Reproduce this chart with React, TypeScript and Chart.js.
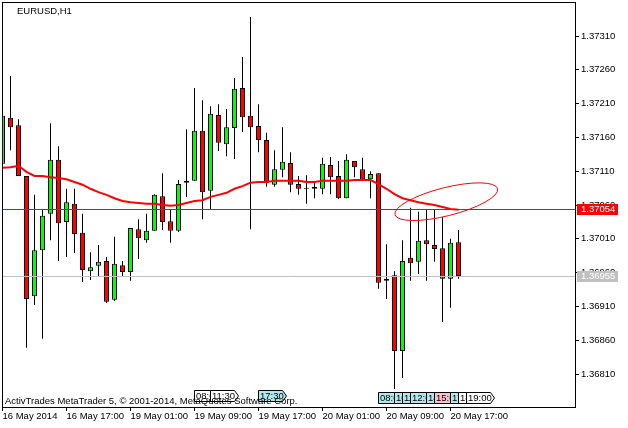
import React, { useEffect, useRef } from "react";
import { Chart, registerables } from "chart.js";

Chart.register(...registerables);

// ---- data (EURUSD H1, 16 May 2014 09:00 .. 20 May 2014 18:00) ----
const OPEN = [1.37121, 1.37189, 1.37178, 1.37103, 1.36925, 1.36993, 1.37047, 1.37127, 1.37035, 1.37062,
  1.37019, 1.36962, 1.3697, 1.36977, 1.3692, 1.36971, 1.36961, 1.37024, 1.37008, 1.37022,
  1.37073, 1.37036, 1.37022, 1.37093, 1.37096, 1.3717, 1.37081, 1.37193, 1.3715, 1.37174,
  1.37233, 1.37192, 1.37177, 1.37156, 1.3709, 1.37112, 1.37122, 1.37091, 1.37084, 1.37087,
  1.37084, 1.37119, 1.37103, 1.3707, 1.37125, 1.37113, 1.37098, 1.37107, 1.36948, 1.36956,
  1.36844, 1.36982, 1.36976, 1.37008, 1.37001, 1.36996, 1.36951, 1.37005];
const HIGH = [1.37195, 1.37251, 1.37187, 1.37103, 1.37075, 1.37053, 1.37181, 1.37147, 1.37084, 1.37084,
  1.37047, 1.3699, 1.37001, 1.36983, 1.37013, 1.36977, 1.37026, 1.37039, 1.37047, 1.37076,
  1.37107, 1.37053, 1.37097, 1.37172, 1.37233, 1.37215, 1.37206, 1.37209, 1.37202, 1.37248,
  1.37279, 1.37338, 1.37209, 1.37167, 1.37141, 1.37175, 1.37138, 1.37103, 1.37104, 1.37094,
  1.3713, 1.37131, 1.37125, 1.37135, 1.37125, 1.3713, 1.3711, 1.37107, 1.37002, 1.36962,
  1.37008, 1.37056, 1.3705, 1.37053, 1.37053, 1.37042, 1.3701, 1.37023];
const LOW = [1.37118, 1.37141, 1.37103, 1.36849, 1.36912, 1.36862, 1.37008, 1.36977, 1.36983, 1.36989,
  1.36946, 1.36949, 1.36955, 1.36915, 1.36918, 1.36954, 1.36948, 1.3698, 1.37004, 1.37022,
  1.37023, 1.37004, 1.3702, 1.37072, 1.37096, 1.37039, 1.37054, 1.3714, 1.37132, 1.37128,
  1.37168, 1.37024, 1.37138, 1.37087, 1.37087, 1.37101, 1.37079, 1.37075, 1.37062, 1.3707,
  1.37076, 1.37076, 1.37069, 1.3707, 1.37101, 1.37096, 1.3707, 1.36936, 1.36921, 1.36788,
  1.36804, 1.36948, 1.36958, 1.36948, 1.36976, 1.36887, 1.36908, 1.36951];
const CLOSE = [1.37192, 1.37175, 1.37103, 1.36921, 1.36993, 1.37044, 1.37127, 1.37033, 1.37064, 1.37017,
  1.36964, 1.36968, 1.36976, 1.36917, 1.36973, 1.36961, 1.37026, 1.37011, 1.37022, 1.37075,
  1.37035, 1.37022, 1.37091, 1.37096, 1.3717, 1.37079, 1.37195, 1.37152, 1.37175, 1.37232,
  1.3719, 1.37175, 1.37156, 1.37093, 1.37113, 1.37124, 1.3709, 1.37084, 1.37084, 1.37084,
  1.37121, 1.37101, 1.3707, 1.37127, 1.37116, 1.37096, 1.37106, 1.36945, 1.36951, 1.36844,
  1.36977, 1.36974, 1.37007, 1.37002, 1.36995, 1.36951, 1.37004, 1.36955];
const MA = [1.37115, 1.37116, 1.37118, 1.37109, 1.37103, 1.37103, 1.37101, 1.371, 1.37098, 1.37094,
  1.3709, 1.37084, 1.37079, 1.37075, 1.3707, 1.37066, 1.37064, 1.37063, 1.37062, 1.37062,
  1.3706, 1.37059, 1.3706, 1.37063, 1.37066, 1.37067, 1.37072, 1.37075, 1.37078, 1.37084,
  1.37088, 1.37093, 1.37094, 1.37094, 1.37096, 1.37096, 1.37096, 1.37096, 1.37094, 1.37094,
  1.37096, 1.37096, 1.37096, 1.37096, 1.37097, 1.37097, 1.37097, 1.37091, 1.37084, 1.37076,
  1.3707, 1.37067, 1.37064, 1.37062, 1.3706, 1.37057, 1.37054, 1.37053];

const X_TICK_INDEX = [0, 8, 16, 24, 32, 40, 48, 56];
const X_TICK_LABELS = ["16 May 2014", "16 May 17:00", "19 May 01:00", "19 May 09:00",
  "19 May 17:00", "20 May 01:00", "20 May 09:00", "20 May 17:00"];
const Y_TICKS = [1.3681, 1.3686, 1.3691, 1.3696, 1.3701, 1.3706, 1.3711, 1.3716, 1.3721, 1.3726, 1.3731];
const X_MIN = -0.0625;
const X_MAX = 71.5625;
const Y_MIN = 1.367612;
const Y_MAX = 1.373603;

const LEVEL_MARKED = 1.37054;
const LEVEL_BID = 1.36955;

const ELLIPSE_END_A = { x: 49.06, y: 1.370457 };
const ELLIPSE_END_B = { x: 61.89, y: 1.370841 };
const ELLIPSE_RATIO = 0.266;

// session tags (bar index, text, kind)
const TAGS_LEFT_INDEX = [24, 26, 32];
const TAGS_LEFT_TEXT = ["08:00", "11:30", "17:30"];
const TAGS_LEFT_KIND = ["plain", "plain", "session"];
const TAGS_RIGHT_INDEX = [47, 49, 50, 51, 53, 54, 56, 57, 58];
const TAGS_RIGHT_TEXT = ["08:00", "10:00", "11:00", "12:00", "14:00", "15:00", "17:00", "18:00", "19:00"];
const TAGS_RIGHT_KIND = ["session", "session", "session", "session", "session", "alert", "session", "plain", "plain"];

const TITLE = "EURUSD,H1";
const COPYRIGHT = "ActivTrades MetaTrader 5, \u00a9 2001-2014, MetaQuotes Software Corp.";

const FONT_FAMILY = '"Liberation Sans", Arial, sans-serif';
const FONT_SIZE = 9.5;
const KIND_COLORS: Record<string, string> = { plain: "#ffffff", session: "#b0e8ee", alert: "#ffc0cb" };

function drawTag(ctx: CanvasRenderingContext2D, x0: number, top: number, text: string, fill: string) {
  const w = 28;
  const h = 11;
  ctx.beginPath();
  ctx.moveTo(x0 + 0.5, top + 0.5);
  ctx.lineTo(x0 + w - 4 + 0.5, top + 0.5);
  ctx.lineTo(x0 + w + 0.5, top + h / 2 + 0.5);
  ctx.lineTo(x0 + w - 4 + 0.5, top + h + 0.5);
  ctx.lineTo(x0 + 0.5, top + h + 0.5);
  ctx.closePath();
  ctx.fillStyle = fill;
  ctx.fill();
  ctx.strokeStyle = "#000";
  ctx.lineWidth = 1;
  ctx.stroke();
  ctx.fillStyle = "#000";
  ctx.textBaseline = "middle";
  ctx.textAlign = "left";
  ctx.fillText(text, x0 + 2, top + h / 2 + 1);
}

const overlayPlugin = {
  id: "mtOverlay",
  afterDatasetsDraw(chart: any) {
    const { ctx, chartArea: a, scales } = chart;
    const xs = scales.x;
    const ys = scales.y;
    ctx.save();
    ctx.beginPath();
    ctx.rect(a.left, a.top, a.right - a.left, a.bottom - a.top);
    ctx.clip();
    const hline = (v: number, color: string) => {
      const py = Math.round(ys.getPixelForValue(v)) + 0.5;
      ctx.strokeStyle = color;
      ctx.lineWidth = 1;
      ctx.beginPath();
      ctx.moveTo(a.left, py);
      ctx.lineTo(a.right, py);
      ctx.stroke();
    };
    hline(LEVEL_BID, "#c0c0c0");
    hline(LEVEL_MARKED, "#ff0000");
    // ellipse
    const x1 = xs.getPixelForValue(ELLIPSE_END_A.x);
    const y1 = ys.getPixelForValue(ELLIPSE_END_A.y);
    const x2 = xs.getPixelForValue(ELLIPSE_END_B.x);
    const y2 = ys.getPixelForValue(ELLIPSE_END_B.y);
    const r = Math.hypot(x2 - x1, y2 - y1) / 2;
    ctx.strokeStyle = "#ff0000";
    ctx.lineWidth = 1;
    ctx.beginPath();
    ctx.ellipse((x1 + x2) / 2, (y1 + y2) / 2, r, r * ELLIPSE_RATIO, Math.atan2(y2 - y1, x2 - x1), 0, Math.PI * 2);
    ctx.stroke();
    ctx.restore();
  },
  afterDraw(chart: any) {
    const { ctx, chartArea: a, scales } = chart;
    const xs = scales.x;
    const ys = scales.y;
    ctx.save();
    ctx.font = `${FONT_SIZE}px ${FONT_FAMILY}`;
    // session tags
    TAGS_LEFT_INDEX.forEach((idx, k) => {
      drawTag(ctx, Math.floor(xs.getPixelForValue(idx)), 390, TAGS_LEFT_TEXT[k], KIND_COLORS[TAGS_LEFT_KIND[k]]);
    });
    TAGS_RIGHT_INDEX.forEach((idx, k) => {
      drawTag(ctx, Math.floor(xs.getPixelForValue(idx)), 392, TAGS_RIGHT_TEXT[k], KIND_COLORS[TAGS_RIGHT_KIND[k]]);
    });
    // texts
    ctx.fillStyle = "#000";
    ctx.textBaseline = "alphabetic";
    ctx.textAlign = "left";
    ctx.fillText(TITLE, 17, 14);
    ctx.fillText(COPYRIGHT, 5, 404);
    // frame
    ctx.strokeStyle = "#000";
    ctx.lineWidth = 1;
    ctx.strokeRect(a.left + 0.5, a.top + 0.5, a.right - a.left, a.bottom - a.top);
    // price tags on axis
    const priceTag = (v: number, bg: string) => {
      const py = Math.round(ys.getPixelForValue(v));
      ctx.fillStyle = bg;
      ctx.fillRect(a.right + 2, py - 5, 41, 11);
      ctx.fillStyle = "#fff";
      ctx.textBaseline = "middle";
      ctx.fillText(v.toFixed(5), a.right + 6, py + 0.5);
    };
    priceTag(LEVEL_MARKED, "#ff0000");
    priceTag(LEVEL_BID, "#c0c0c0");
    ctx.restore();
  },
};

export default function App() {
  const ref = useRef<HTMLCanvasElement>(null);
  useEffect(() => {
    document.body.style.margin = "0";
    const idx = OPEN.map((_, i) => i);
    const bodyColors = OPEN.map((o, i) => (CLOSE[i] > o ? "#00ff00" : CLOSE[i] < o ? "#ff0000" : "#000000"));
    const font = { family: FONT_FAMILY, size: FONT_SIZE };
    const chart = new Chart(ref.current as HTMLCanvasElement, {
      type: "bar",
      data: {
        datasets: [
          {
            type: "line",
            data: idx.map((i) => ({ x: i, y: MA[i] })),
            borderColor: "#ff0000",
            borderWidth: 2,
            pointRadius: 0,
            tension: 0,
            order: 0,
          } as any,
          {
            type: "bar",
            data: idx.map((i) => ({ x: i, y: [OPEN[i], CLOSE[i]] })),
            backgroundColor: bodyColors,
            borderColor: "#000000",
            borderWidth: 1,
            borderSkipped: false,
            barThickness: 5,
            minBarLength: 1,
            grouped: false,
            inflateAmount: 0,
            order: 1,
          } as any,
          {
            type: "bar",
            data: idx.map((i) => ({ x: i, y: [LOW[i], HIGH[i]] })),
            backgroundColor: "#000000",
            borderWidth: 0,
            barThickness: 1,
            grouped: false,
            inflateAmount: 0,
            order: 2,
          } as any,
        ],
      },
      options: {
        animation: false,
        responsive: false,
        events: [],
        layout: { padding: { left: 2, top: 2, right: 0, bottom: 0 } },
        plugins: { legend: { display: false }, tooltip: { enabled: false }, title: { display: false } },
        scales: {
          x: {
            type: "linear",
            min: X_MIN,
            max: X_MAX,
            offset: false,
            afterBuildTicks: (s: any) => {
              s.ticks = X_TICK_INDEX.map((v) => ({ value: v }));
            },
            afterFit: (s: any) => {
              s.height = 21;
              s.paddingLeft = 0;
              s.paddingRight = 0;
              s.paddingTop = 0;
              s.paddingBottom = 0;
            },
            grid: { drawOnChartArea: false, drawTicks: true, tickLength: 4, color: "#000", tickColor: "#000", offset: false },
            border: { display: false },
            ticks: {
              autoSkip: false,
              maxRotation: 0,
              minRotation: 0,
              align: "start",
              padding: 0,
              color: "#000",
              font,
              callback: (_v: any, i: number) => X_TICK_LABELS[i],
            },
          },
          y: {
            type: "linear",
            position: "right",
            min: Y_MIN,
            max: Y_MAX,
            beginAtZero: false,
            afterBuildTicks: (s: any) => {
              s.ticks = Y_TICKS.map((v) => ({ value: v }));
            },
            afterFit: (s: any) => {
              s.width = 53;
              s.paddingTop = 0;
              s.paddingBottom = 0;
              s.paddingLeft = 0;
              s.paddingRight = 0;
            },
            grid: { drawOnChartArea: false, drawTicks: true, tickLength: 4, color: "#000", tickColor: "#000" },
            border: { display: false },
            ticks: {
              padding: 2,
              color: "#000",
              font,
              callback: (v: any) => Number(v).toFixed(5),
            },
          },
        },
      } as any,
      plugins: [overlayPlugin],
    });
    return () => chart.destroy();
  }, []);
  return (
    <div style={{ width: 628, height: 428, background: "#fff" }}>
      <canvas ref={ref} width={628} height={428} style={{ display: "block", width: 628, height: 428 }} />
    </div>
  );
}
